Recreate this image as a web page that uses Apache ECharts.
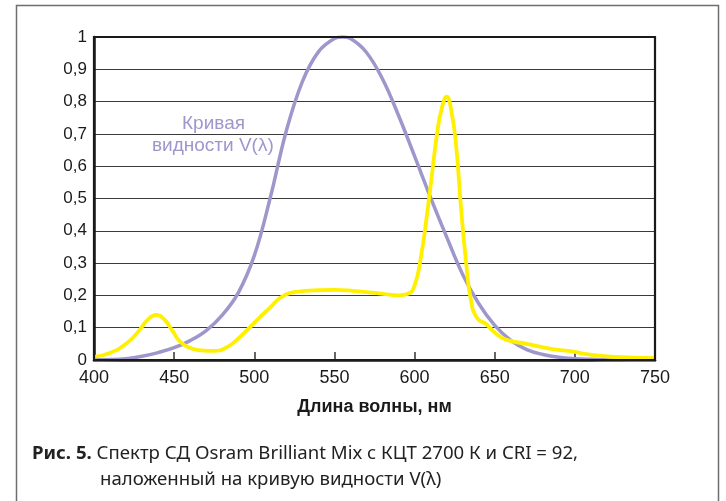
<!DOCTYPE html>
<html>
<head>
<meta charset="utf-8">
<script src="https://cdn.jsdelivr.net/npm/echarts@6/dist/echarts.min.js"></script>
<style>
html,body{margin:0;padding:0;background:#fff;}
#c{width:726px;height:501px;}
</style>
</head>
<body>
<div id="c"></div>
<script>
// Wavelengths (nm) and CIE V(lambda) visibility curve
const vWavelengths = [400,410,420,430,440,450,460,470,480,490,500,510,520,530,540,550,555,560,570,580,590,600,610,620,630,640,650,660,670,680,690,700,710,720,730,740,750];
const vValues = [0.0004,0.0012,0.004,0.0116,0.023,0.038,0.06,0.091,0.139,0.208,0.323,0.503,0.71,0.862,0.954,0.995,1.0,0.995,0.952,0.87,0.757,0.631,0.503,0.381,0.265,0.175,0.107,0.061,0.032,0.017,0.0082,0.0041,0.0021,0.00105,0.00052,0.00025,0.00012];

// LED spectrum (Osram Brilliant Mix)
const ledWavelengths = [400,410,420,428,433,439,444,449,454,460,467,475,482,489,497,503,510,516,522,530,540,550,560,570,580,590,596,600,604,608,611,614,617,620,623,626,629,632,635,639,645,650,657,670,686,699,707,722,750];
const ledValues = [0.01,0.022,0.05,0.09,0.122,0.14,0.125,0.09,0.055,0.037,0.03,0.028,0.037,0.062,0.10,0.13,0.163,0.192,0.207,0.213,0.216,0.217,0.215,0.21,0.205,0.2,0.205,0.23,0.32,0.46,0.58,0.70,0.78,0.815,0.77,0.66,0.47,0.31,0.19,0.13,0.11,0.085,0.063,0.05,0.034,0.026,0.018,0.01,0.006];

const xTicks = [400,450,500,550,600,650,700,750];
const yTicks = [0,0.1,0.2,0.3,0.4,0.5,0.6,0.7,0.8,0.9,1];

const xAxisTitle = 'Длина волны, нм';
const curveLabel = ['Кривая', 'видности V(λ)'];
const captionBold = 'Рис. 5.';
const captionLine1 = ' Спектр СД Osram Brilliant Mix с КЦТ 2700 К и CRI = 92,';
const captionLine2 = 'наложенный на кривую видности V(λ)';

const vData = vWavelengths.map((w,i)=>[w,vValues[i]]);
const ledData = ledWavelengths.map((w,i)=>[w,ledValues[i]]);

const chart = echarts.init(document.getElementById('c'));
const font = 'Liberation Sans, Arial, sans-serif';
const capFont = '"Noto Sans", "Open Sans", sans-serif';

chart.setOption({
  animation:false,
  backgroundColor:'#fff',
  grid:{left:94,right:71,top:37,bottom:141},
  xAxis:{
    type:'value', min:400, max:750, interval:50,
    axisLine:{show:true,lineStyle:{color:'#1a1a1a',width:2.5}},
    axisTick:{show:true,inside:true,length:8,lineStyle:{color:'#333',width:1.5}},
    axisLabel:{color:'#1a1a1a',fontFamily:font,fontSize:18,margin:9,
      formatter:v=>xTicks.includes(v)?String(v):''},
    splitLine:{show:false},
    name:xAxisTitle, nameLocation:'middle', nameGap:38,
    nameTextStyle:{color:'#1a1a1a',fontFamily:font,fontSize:18,fontWeight:'bold'}
  },
  yAxis:{
    type:'value', min:0, max:1, interval:0.1,
    axisLine:{show:true,lineStyle:{color:'#1a1a1a',width:2.5}},
    axisTick:{show:false},
    axisLabel:{color:'#1a1a1a',fontFamily:font,fontSize:17,margin:7,
      formatter:v=>{const t=yTicks.find(x=>Math.abs(x-v)<1e-6);return t===undefined?'':String(+t.toFixed(1)).replace('.',',');}},
    splitLine:{show:true,lineStyle:{color:'#3a3a3a',width:1.2}}
  },
  series:[
    {type:'line',data:vData,smooth:0.4,symbol:'none',z:2,
     lineStyle:{color:'#9d97cb',width:3.5}},
    {type:'line',data:ledData,smooth:0.5,symbol:'none',z:3,
     lineStyle:{color:'#fff000',width:3.8}}
  ],
  graphic:[
    {type:'rect',z:-1,shape:{x:16.5,y:5.5,width:702,height:520},style:{fill:'none',stroke:'#6e6e6e',lineWidth:1.5}},
    {type:'rect',z:10,shape:{x:94,y:37,width:561,height:323},style:{fill:'none',stroke:'#1a1a1a',lineWidth:2.2}},
    {type:'text',left:182,top:114,style:{text:curveLabel[0],fill:'#9d97cb',font:'19px '+font}},
    {type:'text',left:152,top:136,style:{text:curveLabel[1],fill:'#9d97cb',font:'19px '+font}},
    {type:'text',left:32,top:444,style:{rich:{b:{fontWeight:'bold',fontSize:18.6,fontFamily:capFont,fill:'#222'},n:{fontSize:18.6,fontFamily:capFont,fill:'#222'}},text:'{b|'+captionBold+'}{n|'+captionLine1+'}'}},
    {type:'text',left:100,top:470,style:{text:captionLine2,fill:'#222',font:'18.6px '+capFont}}
  ]
});
</script>
</body>
</html>
